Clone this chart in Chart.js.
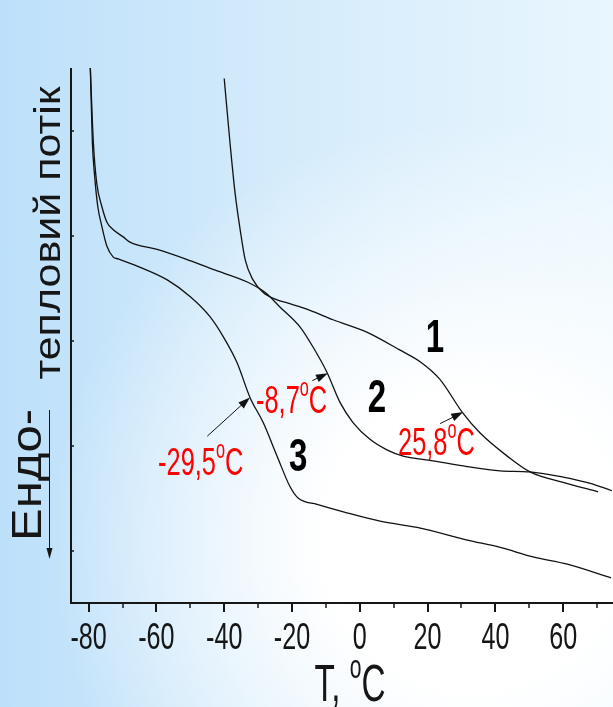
<!DOCTYPE html>
<html>
<head>
<meta charset="utf-8">
<script src="https://cdn.jsdelivr.net/npm/chart.js@4/dist/chart.umd.min.js"></script>
<style>
  html, body { margin: 0; padding: 0; width: 613px; height: 707px; overflow: hidden; }
  body {
    background:
      radial-gradient(circle 420px at 470px 540px, #ffffff 35%, rgba(255,255,255,0) 100%),
      linear-gradient(90deg, #bde0fa 0%, #d6ecfb 50%, #e9f6fe 100%);
  }
  canvas { display: block; }
</style>
</head>
<body>
<canvas id="dsc" width="613" height="707"></canvas>
<script>
// DSC curves: temperature (°C) and heat flow (arbitrary units)
const curve1T = [-40.0, -38.3, -36.8, -35.3, -33.8, -31.5, -28.5, -24.4, -21.4, -14.7, -7.9, 2.2, 11.9, 17.8, 23.7, 30.2, 35.5, 43.5, 50.2, 60.0, 70.3];
const curve1Y = [4.50, 3.89, 3.41, 3.06, 2.77, 2.58, 2.46, 2.39, 2.36, 2.29, 2.20, 2.08, 1.91, 1.80, 1.63, 1.32, 1.12, 0.90, 0.75, 0.65, 0.56];

const curve2T = [-79.5, -78.6, -77.6, -76.1, -74.6, -72.8, -69.8, -67.8, -59.8, -51.5, -43.3, -33.2, -27.9, -23.5, -17.6, -13.8, -9.7, -5.8, -2.0, 3.0, 8.0, 12.8, 20.7, 31.7, 41.4, 50.2, 60.0, 68.0, 74.4];
const curve2Y = [4.60, 3.89, 3.50, 3.28, 3.13, 3.06, 2.99, 2.94, 2.87, 2.78, 2.68, 2.56, 2.46, 2.32, 2.13, 1.94, 1.70, 1.41, 1.22, 1.06, 0.96, 0.90, 0.86, 0.80, 0.76, 0.75, 0.70, 0.64, 0.57];

const curve3T = [-79.5, -78.9, -78.2, -77.3, -76.1, -74.6, -72.8, -71.3, -64.8, -56.8, -50.0, -44.2, -40.3, -36.2, -32.4, -28.5, -24.4, -20.6, -18.2, -12.6, -3.8, 6.0, 16.9, 31.7, 41.4, 51.1, 61.2, 74.1];
const curve3Y = [4.60, 3.89, 3.56, 3.28, 3.09, 2.90, 2.80, 2.78, 2.70, 2.58, 2.42, 2.23, 2.04, 1.79, 1.46, 1.22, 0.90, 0.61, 0.50, 0.44, 0.36, 0.28, 0.22, 0.10, 0.03, -0.06, -0.13, -0.26];

// axis ticks
const xMajorTicks = [-80, -60, -40, -20, 0, 20, 40, 60];
const xMinorTicks = [-70, -50, -30, -10, 10, 30, 50, 70];
const yTicks = [0, 1, 2, 3, 4];

// curve numbers
const curveNames = ['1', '2', '3'];
const curveNameT = [22.2, 5.1, -18.2];
const curveNameY = [1.89, 1.32, 0.76];

// glass transition marks (red)
const tgLabels = ['-29,5', '-8,7', '25,8'];
const tgTextT = [-59.5, -30.6, 11.3];
const tgTextY = [0.72, 1.31, 0.91];
const tgTipT = [-32.4, -9.4, 30.5];
const tgTipY = [1.46, 1.69, 1.32];
const tgTailT = [-45.0, -14.0, 23.7];
const tgTailY = [1.09, 1.62, 1.21];

const FONT = "'Liberation Sans', Arial, sans-serif";

function toPoints(xs, ys) {
  return xs.map((x, i) => ({ x: x, y: ys[i] }));
}

// draws a row of text pieces, each with its own size and lift;
// sq squeezes the lettering horizontally on screen like the original
function drawText(ctx, x, y, parts, align, angle, color, sq) {
  ctx.save();
  let w = 0;
  parts.forEach(p => {
    ctx.font = (p.bold ? 'bold ' : '') + p.size + 'px ' + FONT;
    p.w = ctx.measureText(p.t).width;
    w += p.w;
  });
  ctx.translate(x, y);
  ctx.scale(sq, 1);
  ctx.rotate(angle || 0);
  ctx.fillStyle = color;
  ctx.textBaseline = 'alphabetic';
  ctx.textAlign = 'left';
  let cx = align === 'center' ? -w / 2 : 0;
  parts.forEach(p => {
    ctx.font = (p.bold ? 'bold ' : '') + p.size + 'px ' + FONT;
    ctx.fillText(p.t, cx, -(p.raise || 0));
    cx += p.w;
  });
  ctx.restore();
}

function drawArrow(ctx, x1, y1, x2, y2, len, half) {
  const a = Math.atan2(y2 - y1, x2 - x1);
  ctx.beginPath();
  ctx.moveTo(x1, y1);
  ctx.lineTo(x2 - Math.cos(a) * len * 0.8, y2 - Math.sin(a) * len * 0.8);
  ctx.stroke();
  ctx.beginPath();
  ctx.moveTo(x2, y2);
  ctx.lineTo(x2 - Math.cos(a) * len + Math.sin(a) * half, y2 - Math.sin(a) * len - Math.cos(a) * half);
  ctx.lineTo(x2 - Math.cos(a) * len - Math.sin(a) * half, y2 - Math.sin(a) * len + Math.cos(a) * half);
  ctx.closePath();
  ctx.fill();
}

const decorPlugin = {
  id: 'decor',
  afterDraw(chart) {
    const ctx = chart.ctx;
    const area = chart.chartArea;
    const xs = chart.scales.x;
    const ys = chart.scales.y;
    const ink = '#161616';

    ctx.save();
    ctx.strokeStyle = ink;
    ctx.fillStyle = ink;

    // axis lines
    ctx.lineWidth = 2;
    ctx.beginPath();
    ctx.moveTo(area.left, area.top);
    ctx.lineTo(area.left, area.bottom);
    ctx.lineTo(area.right, area.bottom);
    ctx.stroke();

    // x ticks, outward
    ctx.lineWidth = 2;
    xMajorTicks.forEach(v => {
      const px = Math.round(xs.getPixelForValue(v));
      ctx.beginPath();
      ctx.moveTo(px, area.bottom);
      ctx.lineTo(px, area.bottom + 9);
      ctx.stroke();
    });
    ctx.lineWidth = 1.5;
    xMinorTicks.forEach(v => {
      const px = Math.round(xs.getPixelForValue(v));
      ctx.beginPath();
      ctx.moveTo(px, area.bottom);
      ctx.lineTo(px, area.bottom + 5);
      ctx.stroke();
    });

    // y ticks, inward
    ctx.lineWidth = 1.5;
    yTicks.forEach(v => {
      const py = Math.round(ys.getPixelForValue(v));
      ctx.beginPath();
      ctx.moveTo(area.left, py);
      ctx.lineTo(area.left + 3, py);
      ctx.stroke();
    });
    ctx.restore();

    // x tick labels
    xMajorTicks.forEach(v => {
      drawText(ctx, xs.getPixelForValue(v), area.bottom + 46, [{ t: String(v), size: 37 }], 'center', 0, ink, 0.68);
    });

    // x title
    drawText(ctx, (area.left + area.right) / 2 + 8, area.bottom + 98,
      [{ t: 'T, ', size: 52 }, { t: 'o', size: 33, raise: 23 }, { t: 'C', size: 52 }], 'center', 0, ink, 0.64);

    // y title
    drawText(ctx, 60, 233, [{ t: 'тепловий потік', size: 43 }], 'center', -Math.PI / 2, ink, 0.85);
    drawText(ctx, 41, 475, [{ t: 'Ендо-', size: 49 }], 'center', -Math.PI / 2, ink, 0.85);

    ctx.save();
    ctx.strokeStyle = ink;
    ctx.fillStyle = ink;
    ctx.lineWidth = 1;
    drawArrow(ctx, 49.5, 410, 49.5, 559, 11, 3);
    ctx.restore();

    // curve numbers
    curveNames.forEach((n, i) => {
      drawText(ctx, xs.getPixelForValue(curveNameT[i]), ys.getPixelForValue(curveNameY[i]),
        [{ t: n, size: 46, bold: true }], 'center', 0, '#000', 0.72);
    });

    // Tg marks
    ctx.save();
    ctx.strokeStyle = '#111';
    ctx.fillStyle = '#111';
    ctx.lineWidth = 1;
    tgLabels.forEach((lab, i) => {
      drawArrow(ctx,
        xs.getPixelForValue(tgTailT[i]), ys.getPixelForValue(tgTailY[i]),
        xs.getPixelForValue(tgTipT[i]), ys.getPixelForValue(tgTipY[i]), 12, 4);
      drawText(ctx, xs.getPixelForValue(tgTextT[i]), ys.getPixelForValue(tgTextY[i]),
        [{ t: lab, size: 39 }, { t: 'o', size: 25, raise: 17 }, { t: 'C', size: 39 }], 'left', 0, '#ff0000', 0.65);
    });
    ctx.restore();
  }
};

const lineStyle = {
  borderColor: '#111',
  borderWidth: 1.3,
  pointRadius: 0,
  fill: false,
  cubicInterpolationMode: 'monotone'
};

new Chart(document.getElementById('dsc'), {
  type: 'line',
  data: {
    datasets: [
      Object.assign({ label: '1', data: toPoints(curve1T, curve1Y) }, lineStyle),
      Object.assign({ label: '2', data: toPoints(curve2T, curve2Y) }, lineStyle),
      Object.assign({ label: '3', data: toPoints(curve3T, curve3Y) }, lineStyle)
    ]
  },
  options: {
    responsive: false,
    devicePixelRatio: 1,
    animation: false,
    layout: { padding: { left: 71, top: 68, right: 0, bottom: 104 } },
    plugins: { legend: { display: false }, tooltip: { enabled: false } },
    scales: {
      x: { type: 'linear', min: -85.2, max: 74.7, display: false },
      y: { type: 'linear', min: -0.5, max: 4.6, display: false }
    }
  },
  plugins: [decorPlugin]
});
</script>
</body>
</html>
